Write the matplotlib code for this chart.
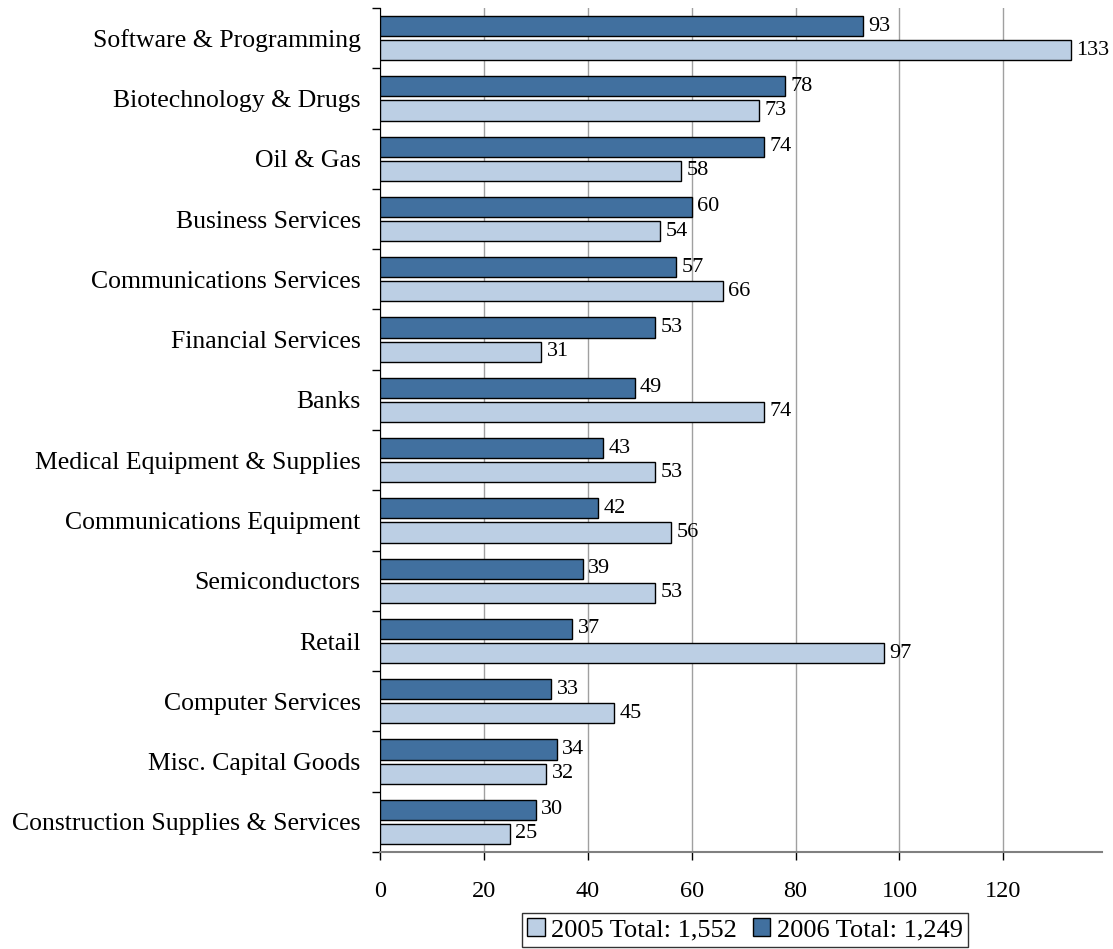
import matplotlib.pyplot as plt
import numpy as np
from matplotlib.patches import Patch

# Industry sectors, listed top to bottom
sectors = [
    "Software & Programming",
    "Biotechnology & Drugs",
    "Oil & Gas",
    "Business Services",
    "Communications Services",
    "Financial Services",
    "Banks",
    "Medical Equipment & Supplies",
    "Communications Equipment",
    "Semiconductors",
    "Retail",
    "Computer Services",
    "Misc. Capital Goods",
    "Construction Supplies & Services",
]
counts_2006 = [93, 78, 74, 60, 57, 53, 49, 43, 42, 39, 37, 33, 34, 30]
counts_2005 = [133, 73, 58, 54, 66, 31, 74, 53, 56, 53, 97, 45, 32, 25]
legend_labels = ["2005 Total: 1,552", "2006 Total: 1,249"]

dark_blue = "#41709f"
light_blue = "#bccfe4"

plt.rcParams["font.family"] = ["Liberation Serif", "DejaVu Serif"]

fig = plt.figure(figsize=(11.13, 9.49), dpi=100)
ax = fig.add_axes([380 / 1113, 1 - 852 / 949, (1102 - 380) / 1113, (852 - 8) / 949])

y = np.arange(len(sectors))
h = 0.333

ax.barh(y - 0.2, counts_2006, height=h, color=dark_blue, edgecolor="black", linewidth=1, zorder=3)
ax.barh(y + 0.2, counts_2005, height=h, color=light_blue, edgecolor="black", linewidth=1, zorder=3)

# value labels just past the end of each bar
for yi, v in zip(y, counts_2006):
    ax.annotate(str(v), (v, yi - 0.2), xytext=(4, 0), textcoords="offset points",
                va="center", ha="left", fontsize=16)
for yi, v in zip(y, counts_2005):
    ax.annotate(str(v), (v, yi + 0.2), xytext=(4, 0), textcoords="offset points",
                va="center", ha="left", fontsize=16)

ax.set_xlim(0, 139)
ax.set_ylim(len(sectors) - 0.5, -0.5)

ax.set_xticks(np.arange(0, 121, 20))
ax.tick_params(axis="x", direction="out", length=6, width=1, color="black", pad=15, labelsize=17.5)
ax.grid(axis="x", color="#a0a0a0", linewidth=1, zorder=0)

ax.set_yticks(y)
ax.set_yticklabels(sectors, fontsize=18.5)
ax.tick_params(axis="y", which="major", length=0, pad=14)
ax.set_yticks(np.arange(-0.5, len(sectors)), minor=True)
ax.tick_params(axis="y", which="minor", direction="out", length=6, width=1, color="black")

ax.spines["top"].set_visible(False)
ax.spines["right"].set_visible(False)
ax.spines["left"].set_color("black")
ax.spines["bottom"].set_color("#808080")
ax.spines["bottom"].set_linewidth(1.5)

handles = [
    Patch(facecolor=light_blue, edgecolor="black", linewidth=1),
    Patch(facecolor=dark_blue, edgecolor="black", linewidth=1),
]
leg = fig.legend(handles, legend_labels, loc="upper center", bbox_to_anchor=(745 / 1113, 1 - 913 / 949),
                 ncol=2, fontsize=19, frameon=True, fancybox=False, edgecolor="black",
                 handlelength=0.65, handleheight=0.65, handletextpad=0.25, columnspacing=0.6,
                 borderpad=0.2, borderaxespad=0.0)
leg.get_frame().set_linewidth(1)

fig.savefig("out.png", dpi=100)
